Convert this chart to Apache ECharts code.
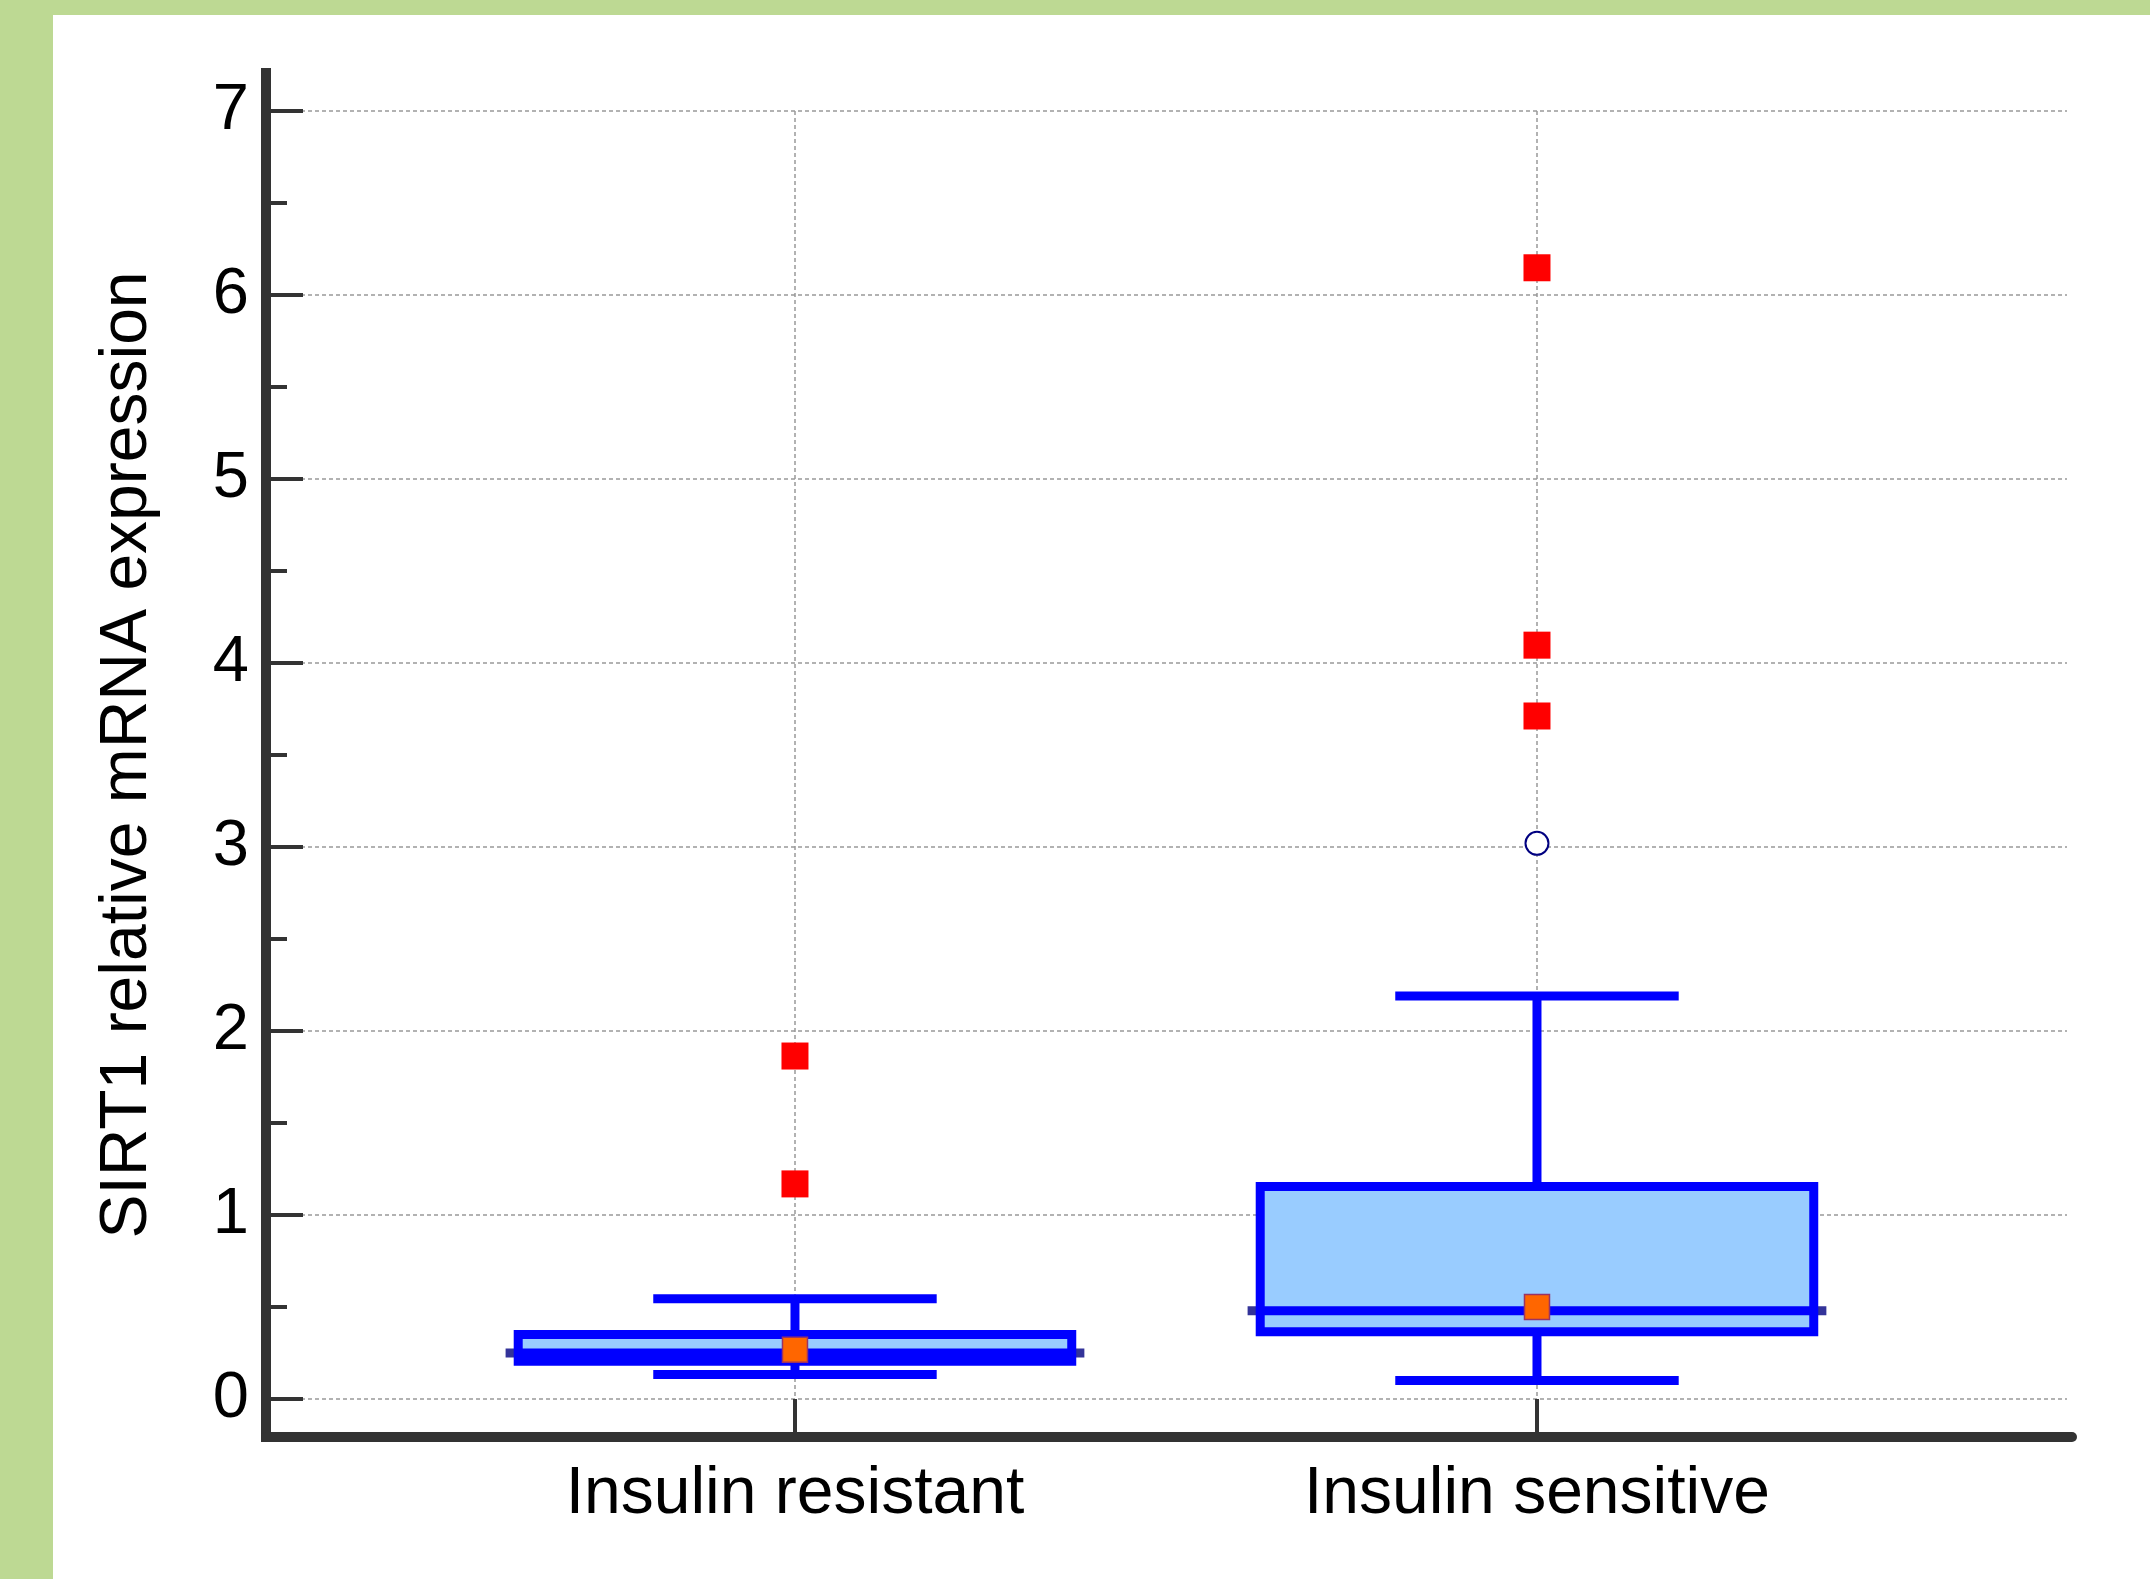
<!DOCTYPE html>
<html>
<head>
<meta charset="utf-8">
<title>SIRT1 relative mRNA expression</title>
<script src="https://cdn.jsdelivr.net/npm/echarts@6/dist/echarts.min.js"></script>
<style>
  html, body { margin: 0; padding: 0; background: #bdd993; }
  #main { position: absolute; left: 53px; top: 15px; width: 2097px; height: 1564px; background: #ffffff; }
</style>
</head>
<body>
<div id="main"></div>
<script>
// groups on the x axis (placed at x = 1, 2)
const categories = ['Insulin resistant', 'Insulin sensitive']
// box plot statistics
const whiskerLow = [0.133, 0.10]
const quartile1 = [0.205, 0.365]
const medians = [0.25, 0.48]
const quartile3 = [0.35, 1.155]
const whiskerHigh = [0.545, 2.19]
const means = [0.267, 0.50]
// far out values (red squares)
const farGroup = [1, 1, 2, 2, 2]
const farValue = [1.864, 1.169, 6.148, 4.097, 3.712]
// outside values (open circles)
const outGroup = [2]
const outValue = [3.02]
// y ticks
const yTicks = [0, 1, 2, 3, 4, 5, 6, 7]

const chart = echarts.init(document.getElementById('main'))

const boxData = categories.map((c, i) => [i + 1, whiskerLow[i], quartile1[i], medians[i], quartile3[i], whiskerHigh[i]])
const meanData = means.map((m, i) => [i + 1, m])
const farData = farValue.map((v, i) => [farGroup[i], v])
const outData = outValue.map((v, i) => [outGroup[i], v])

const BLUE = '#0000ff'
const FONT = 'Liberation Sans, Arial, sans-serif'

function renderBox (params, api) {
  let x = api.value(0)
  let lo = api.value(1), q1 = api.value(2), med = api.value(3), q3 = api.value(4), hi = api.value(5)
  let unit = api.size([1, 0])[0]
  let halfBox = unit * 0.373
  let halfCap = unit * 0.191
  let halfMed = unit * 0.39
  let pLo = api.coord([x, lo]), pQ1 = api.coord([x, q1]), pMed = api.coord([x, med])
  let pQ3 = api.coord([x, q3]), pHi = api.coord([x, hi])
  let cx = pMed[0]
  let line = (x1, y1, x2, y2, color) => ({
    type: 'line',
    shape: { x1: x1, y1: y1, x2: x2, y2: y2 },
    style: { stroke: color || BLUE, lineWidth: 9 }
  })
  return {
    type: 'group',
    children: [
      line(cx, pQ3[1], cx, pHi[1]),
      line(cx, pLo[1], cx, pQ1[1]),
      line(cx - halfCap, pHi[1], cx + halfCap, pHi[1]),
      line(cx - halfCap, pLo[1], cx + halfCap, pLo[1]),
      line(cx - halfMed, pMed[1], cx + halfMed, pMed[1], '#333399'),
      {
        type: 'rect',
        shape: { x: cx - halfBox, y: pQ3[1], width: halfBox * 2, height: pQ1[1] - pQ3[1] },
        style: { fill: '#99ccff', stroke: BLUE, lineWidth: 9 }
      },
      line(cx - halfBox, pMed[1], cx + halfBox, pMed[1])
    ]
  }
}

let option = {
  backgroundColor: '#ffffff',
  animation: false,
  grid: [
    { left: 213, right: 83, top: 96, bottom: 180 },
    { left: 213, right: 78, top: 58, bottom: 142 }
  ],
  xAxis: [
    {
      type: 'value',
      gridIndex: 0,
      min: 0.2871,
      max: 2.7143,
      axisLine: { show: false },
      axisTick: {
        show: true,
        customValues: [1, 2],
        length: 37,
        lineStyle: { color: '#333333', width: 4 }
      },
      axisLabel: {
        show: true,
        customValues: [1, 2],
        formatter: v => categories[Math.round(v) - 1] || '',
        margin: 63,
        color: '#000000',
        fontSize: 66,
        fontFamily: FONT
      },
      splitLine: {
        show: true,
        lineStyle: { color: '#999999', width: 1.5, type: [4, 3] }
      }
    },
    {
      type: 'value',
      gridIndex: 1,
      min: 0,
      max: 1,
      axisLine: { show: true, lineStyle: { color: '#333333', width: 10 } },
      axisTick: { show: false },
      axisLabel: { show: false },
      splitLine: { show: false }
    }
  ],
  yAxis: [
    {
      type: 'value',
      gridIndex: 0,
      min: 0,
      max: 7,
      interval: 1,
      name: 'SIRT1 relative mRNA expression',
      nameLocation: 'middle',
      nameGap: 105,
      nameTextStyle: { color: '#000000', fontSize: 66, fontFamily: FONT },
      axisLine: { show: false },
      axisTick: {
        show: true,
        inside: true,
        length: 37,
        lineStyle: { color: '#333333', width: 4 }
      },
      minorTick: {
        show: true,
        splitNumber: 2,
        length: 21,
        lineStyle: { color: '#333333', width: 4 }
      },
      axisLabel: {
        margin: 17,
        color: '#000000',
        fontSize: 65,
        fontFamily: FONT,
        formatter: v => (yTicks.indexOf(v) >= 0 ? String(v) : '')
      },
      splitLine: {
        show: true,
        lineStyle: { color: '#999999', width: 1.5, type: [4, 3] }
      }
    },
    {
      type: 'value',
      gridIndex: 1,
      min: 0,
      max: 1,
      axisLine: { show: true, lineStyle: { color: '#333333', width: 10, cap: 'square' } },
      axisTick: { show: false },
      axisLabel: { show: false },
      splitLine: { show: false }
    }
  ],
  series: [
    {
      name: 'box',
      type: 'custom',
      xAxisIndex: 0,
      yAxisIndex: 0,
      renderItem: renderBox,
      encode: { x: 0, y: [1, 2, 3, 4, 5] },
      data: boxData,
      z: 2
    },
    {
      name: 'mean',
      type: 'scatter',
      xAxisIndex: 0,
      yAxisIndex: 0,
      symbol: 'rect',
      symbolSize: 25,
      itemStyle: { color: '#ff6600', borderColor: '#993366', borderWidth: 1.5, opacity: 1 },
      data: meanData,
      z: 4
    },
    {
      name: 'far out',
      type: 'scatter',
      xAxisIndex: 0,
      yAxisIndex: 0,
      symbol: 'rect',
      symbolSize: 27,
      itemStyle: { color: '#ff0000', opacity: 1 },
      data: farData,
      z: 4
    },
    {
      name: 'outside',
      type: 'scatter',
      xAxisIndex: 0,
      yAxisIndex: 0,
      symbol: 'circle',
      symbolSize: 23,
      itemStyle: { color: '#ffffff', borderColor: '#000080', borderWidth: 2, opacity: 1 },
      data: outData,
      z: 4
    }
  ]
}

chart.setOption(option)
</script>
</body>
</html>
